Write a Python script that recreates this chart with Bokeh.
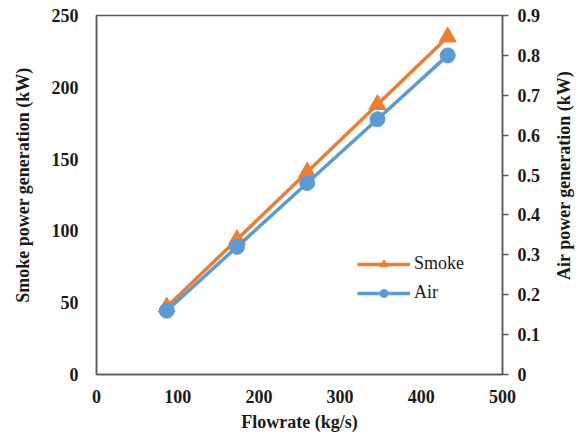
import math
from bokeh.plotting import figure
from bokeh.layouts import row
from bokeh.models import Range1d, LinearAxis, FixedTicker, Legend, LegendItem
from bokeh.core.properties import value
from bokeh.embed import file_html
from bokeh.resources import INLINE

flowrate = [86.5, 173, 259.5, 346, 432.5]
smoke = [47, 94, 141, 188, 235]
air = [0.16, 0.32, 0.48, 0.64, 0.80]

x_ticks = [0, 100, 200, 300, 400, 500]
left_ticks = [0, 50, 100, 150, 200, 250]
right_ticks = [0, 0.1, 0.2, 0.3, 0.4, 0.5, 0.6, 0.7, 0.8, 0.9]

ORANGE = "#ED7D31"
BLUE = "#5B9BD5"
FONT = "Liberation Serif"
AXC = "#595959"
TXT = "#1a1a1a"

LW, RW, H = 34, 36, 436

p = figure(width=583 - LW - RW, height=H, output_backend="svg", toolbar_location=None,
           x_range=Range1d(0, 500), y_range=Range1d(0, 250),
           frame_width=406, frame_height=359,
           min_border_left=96 - LW, min_border_right=583 - RW - 502,
           min_border_top=15, min_border_bottom=62)
p.extra_y_ranges = {"air": Range1d(0, 0.9)}
p.grid.visible = False
p.outline_line_color = AXC
p.outline_line_width = 1.5
p.background_fill_color = "white"
p.border_fill_color = "white"

def style_axis(ax, ticks, ticks_out=False):
    ax.ticker = FixedTicker(ticks=ticks)
    ax.axis_label_text_font = FONT
    ax.axis_label_text_font_style = "bold"
    ax.axis_label_text_font_size = "18px"
    ax.axis_label_text_color = TXT
    ax.major_label_text_font = FONT
    ax.major_label_text_font_style = "bold"
    ax.major_label_text_font_size = "18px"
    ax.major_label_text_color = TXT
    ax.minor_tick_line_color = None
    ax.axis_line_color = AXC
    ax.axis_line_width = 1.5
    if ticks_out:
        ax.major_tick_line_color = AXC
        ax.major_tick_out = 6
        ax.major_tick_in = 0
        ax.major_tick_line_width = 1.5
    else:
        ax.major_tick_line_color = None

style_axis(p.xaxis[0], x_ticks)
p.xaxis[0].axis_label = "Flowrate (kg/s)"
p.xaxis[0].major_label_standoff = 9
p.xaxis[0].axis_label_standoff = 6
style_axis(p.yaxis[0], left_ticks)
p.yaxis[0].major_label_standoff = 12

rax = LinearAxis(y_range_name="air")
style_axis(rax, right_ticks, ticks_out=True)
rax.major_label_overrides = {0: "0"}
rax.major_label_standoff = 9
p.add_layout(rax, "right")

sl = p.line(flowrate, smoke, line_color=ORANGE, line_width=3.5)
ss = p.scatter(flowrate, smoke, marker="triangle", size=17, fill_color=ORANGE, line_color=ORANGE)
al = p.line(flowrate, air, line_color=BLUE, line_width=3.5, y_range_name="air")
asc = p.scatter(flowrate, air, marker="circle", size=15, fill_color=BLUE, line_color=BLUE, y_range_name="air")

legend = Legend(items=[LegendItem(label="Smoke", renderers=[sl, ss]),
                       LegendItem(label="Air", renderers=[al, asc])],
                location=(261, 71), padding=0, margin=0, spacing=8,
                glyph_width=53, glyph_height=20, label_standoff=4,
                label_text_font=FONT, label_text_font_size="18px",
                label_text_color=TXT,
                border_line_color=None, background_fill_alpha=0)
p.add_layout(legend, "center")

def label_panel(w, text, cx, cy):
    q = figure(width=w, height=H, output_backend="svg", toolbar_location=None,
               x_range=Range1d(0, w), y_range=Range1d(0, H),
               x_axis_type=None, y_axis_type=None, min_border=0)
    q.grid.visible = False
    q.outline_line_color = None
    q.border_fill_color = "white"
    q.background_fill_color = "white"
    q.text(x=[cx], y=[H - cy], text=[text], angle=math.pi / 2,
           text_align="center", text_baseline="middle",
           text_font=value(FONT), text_font_style="bold", text_font_size="18px",
           text_color=TXT)
    return q

ql = label_panel(LW, "Smoke power generation (kW)", 22, 206)
qr = label_panel(RW, "Air power generation (kW)", 563 - (583 - RW), 194)

layout = row(ql, p, qr, spacing=0)
open("out.html", "w").write(file_html(layout, INLINE))
